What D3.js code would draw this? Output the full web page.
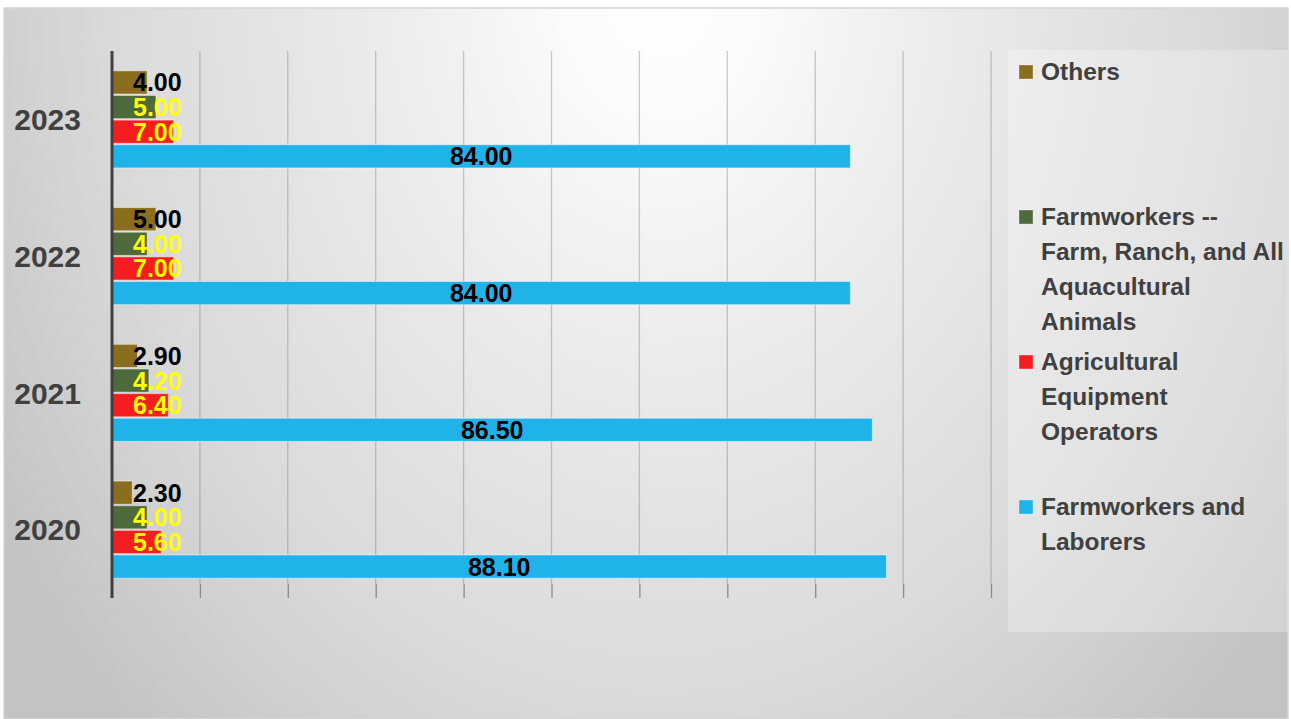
<!DOCTYPE html>
<html>
<head>
<meta charset="utf-8">
<script src="https://cdn.jsdelivr.net/npm/d3@7"></script>
<style>
  html, body { margin: 0; padding: 0; background: #ffffff; }
  svg { display: block; }
</style>
</head>
<body>
<svg id="chart" width="1291" height="719"></svg>
<script>
// ---- Data ----
const categories = ["2023", "2022", "2021", "2020"];
const seriesNames = [
  "Others",
  "Farmworkers -- Farm, Ranch, and All Aquacultural Animals",
  "Agricultural Equipment Operators",
  "Farmworkers and Laborers"
];
const legendLines = [
  ["Others"],
  ["Farmworkers --", "Farm, Ranch, and All", "Aquacultural", "Animals"],
  ["Agricultural", "Equipment", "Operators"],
  ["Farmworkers and", "Laborers"]
];
const others       = [4.00, 5.00, 2.90, 2.30];
const farmRanch    = [5.00, 4.00, 4.20, 4.00];
const agriEquip    = [7.00, 7.00, 6.40, 5.60];
const laborers     = [84.00, 84.00, 86.50, 88.10];
const xTicks = [0, 10, 20, 30, 40, 50, 60, 70, 80, 90, 100];

const seriesValues = [others, farmRanch, agriEquip, laborers];
const seriesColors = ["#8b6d1f", "#4e6a3b", "#f51e1e", "#20b3ea"];
const labelColors  = ["#000000", "#ffff00", "#ffff00", "#000000"];

// ---- Layout ----
const svg = d3.select("#chart");
const defs = svg.append("defs");

const grad = defs.append("radialGradient")
  .attr("id", "bg")
  .attr("gradientUnits", "userSpaceOnUse")
  .attr("cx", 0).attr("cy", 0).attr("r", 780)
  .attr("gradientTransform", "translate(660,-10) scale(1,1.3)");
[[0, "#ffffff"], [0.12, "#fbfbfb"], [0.3, "#efefef"], [0.5, "#e4e4e4"],
 [0.7, "#dadada"], [0.85, "#cfcfcf"], [1, "#c3c3c3"]]
  .forEach(([o, c]) => grad.append("stop").attr("offset", o).attr("stop-color", c));

svg.append("rect")
  .attr("x", 4).attr("y", 8).attr("width", 1284).attr("height", 711)
  .attr("fill", "url(#bg)")
  .attr("stroke", "#d6d6d6").attr("stroke-width", 1.5);

// legend backing panel
svg.append("rect")
  .attr("x", 1008).attr("y", 50).attr("width", 280).attr("height", 582)
  .attr("fill", "rgba(255,255,255,0.28)");

const x = d3.scaleLinear().domain([0, 100]).range([112, 991]);
const y = d3.scaleBand().domain(categories).range([51, 598])
  .paddingInner(0.29).paddingOuter(0.145);
const ySub = d3.scaleBand().domain(d3.range(seriesNames.length))
  .range([0, y.bandwidth()]).paddingInner(0.06);

const plotTop = 51, plotBottom = 584;

// gridlines
const grid = svg.append("g");
grid.selectAll("line.grid")
  .data(xTicks.filter(d => d > 0))
  .join("line")
  .attr("class", "grid")
  .attr("x1", d => x(d)).attr("x2", d => x(d))
  .attr("y1", plotTop).attr("y2", plotBottom)
  .attr("stroke", "rgba(90,90,90,0.3)").attr("stroke-width", 1.3);

// bottom axis: tick marks only
const xAxis = d3.axisBottom(x).tickValues(xTicks).tickSize(14).tickFormat("");
const gx = svg.append("g").attr("transform", `translate(0,${plotBottom})`).call(xAxis);
gx.select(".domain").remove();
gx.selectAll(".tick line").attr("stroke", "#8a8a8a").attr("stroke-width", 1.3);

// bars
const groups = svg.append("g").selectAll("g.cat")
  .data(categories)
  .join("g")
  .attr("class", "cat")
  .attr("transform", c => `translate(0,${y(c)})`);

const barData = (c, ci) => seriesValues.map((vals, si) => ({ si, v: vals[ci] }));

groups.each(function (c, ci) {
  const g = d3.select(this);
  const data = barData(c, ci);
  g.selectAll("rect")
    .data(data)
    .join("rect")
    .attr("x", x(0))
    .attr("y", d => ySub(d.si))
    .attr("width", d => x(d.v) - x(0))
    .attr("height", ySub.bandwidth())
    .attr("fill", d => seriesColors[d.si])
    .attr("stroke", "rgba(255,255,255,0.45)")
    .attr("stroke-width", 1);

  const labels = g.selectAll("text")
    .data(data)
    .join("text")
    .attr("y", d => ySub(d.si) + ySub.bandwidth() / 2)
    .attr("dy", "0.36em")
    .attr("font-family", "'Liberation Sans', Arial, sans-serif")
    .attr("font-weight", "bold")
    .attr("font-size", 25)
    .attr("fill", d => labelColors[d.si])
    .text(d => d3.format(".2f")(d.v));

  labels.each(function (d) {
    const w = this.getComputedTextLength();
    const cx = (x(0) + x(d.v)) / 2;
    const left = Math.max(cx - w / 2, x(0) + 21);
    d3.select(this).attr("x", left);
  });
});

// vertical axis line
svg.append("line")
  .attr("x1", x(0)).attr("x2", x(0))
  .attr("y1", plotTop).attr("y2", 598)
  .attr("stroke", "#404040").attr("stroke-width", 3);

// category labels
const yAxis = d3.axisLeft(y).tickSize(0).tickPadding(0);
const gy = svg.append("g").attr("transform", "translate(81,0)").call(yAxis);
gy.select(".domain").remove();
gy.selectAll(".tick text")
  .attr("font-family", "'Liberation Sans', Arial, sans-serif")
  .attr("font-weight", "bold")
  .attr("font-size", 30)
  .attr("fill", "#404040")
  .attr("dy", "0.36em");

// legend
const legend = svg.append("g");
const legendStep = 145;
legendLines.forEach((lines, i) => {
  const baseY = 80 + i * legendStep;
  legend.append("rect")
    .attr("x", 1019).attr("y", baseY - 15)
    .attr("width", 14).attr("height", 14)
    .attr("fill", seriesColors[i])
    .attr("stroke", "rgba(255,255,255,0.4)").attr("stroke-width", 0.8);
  const t = legend.append("text")
    .attr("x", 1041).attr("y", baseY)
    .attr("font-family", "'Liberation Sans', Arial, sans-serif")
    .attr("font-weight", "bold")
    .attr("font-size", 24.5)
    .attr("fill", "#404040");
  lines.forEach((ln, li) => {
    t.append("tspan").attr("x", 1041).attr("y", baseY + li * 35).text(ln);
  });
});
</script>
</body>
</html>
